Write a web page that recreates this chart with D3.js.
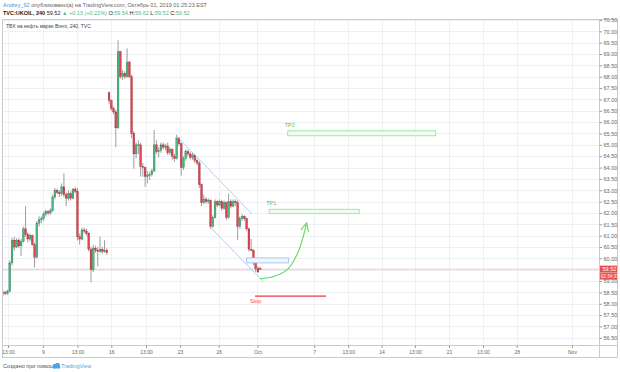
<!DOCTYPE html>
<html><head><meta charset="utf-8">
<script src="https://cdn.jsdelivr.net/npm/d3@7"></script>
<style>body{margin:0;background:#fff} svg{display:block;font-family:"Liberation Sans",Arial,sans-serif}</style>
</head><body><svg id="c" width="620" height="372"></svg>
<script>
// ---- data (4h bars, TVC:UKOIL) ----
const opens  = [58.45,58.50,58.45,58.55,59.80,60.80,60.50,60.80,60.55,60.75,61.30,61.05,60.85,61.00,60.60,60.05,61.55,61.70,61.75,61.95,62.05,62.00,62.10,62.70,63.00,62.90,62.85,63.15,62.80,62.65,62.85,62.65,63.05,62.95,60.95,60.85,61.25,61.20,61.10,60.40,59.50,60.45,60.35,60.30,60.40,60.30,60.35,
  67.30,66.95,66.60,66.45,65.75,69.10,68.00,68.15,68.00,68.65,68.00,65.50,64.60,65.00,65.00,64.05,64.00,63.60,63.65,63.70,63.85,65.00,64.70,64.75,65.00,64.90,64.95,64.65,64.80,64.50,64.40,65.30,65.05,64.00,64.40,64.70,64.60,64.45,64.55,64.30,64.20,63.25,62.45,62.60,62.50,62.55,61.40,61.80,62.50,62.35,62.50,62.20,62.45,61.80,62.50,62.30,62.50,62.45,61.40,61.75,61.85,61.75,61.30,60.40,60.35,59.80,59.55,59.54];
const highs  = [58.60,58.58,58.62,59.90,60.90,60.95,60.88,60.90,60.85,61.40,62.30,61.15,61.10,61.05,60.70,61.65,61.85,61.85,62.05,62.15,62.12,62.20,62.80,63.10,63.08,63.00,63.30,63.75,62.90,63.00,62.95,63.10,63.15,63.10,61.10,61.35,61.35,61.30,61.15,60.50,60.60,60.55,60.50,60.95,60.50,60.80,60.45,
  67.35,67.00,66.70,66.55,69.60,69.15,68.30,68.25,69.25,68.70,68.10,65.60,65.10,65.20,65.10,64.20,64.05,63.85,63.80,63.95,65.65,65.20,64.90,65.10,65.10,65.05,65.10,64.90,64.85,64.60,65.45,65.35,65.10,64.50,64.80,64.80,64.70,64.65,64.60,64.40,64.30,63.30,62.80,62.70,62.65,62.60,61.90,62.60,62.55,62.60,62.55,62.55,62.50,62.85,62.60,62.60,62.60,62.55,61.85,61.95,61.90,61.80,61.35,60.85,60.40,59.85,59.65,59.62];
const lows   = [58.35,58.38,58.40,58.50,59.70,60.35,60.45,60.45,60.10,60.70,60.95,60.70,60.75,60.55,59.60,60.00,61.40,61.55,61.65,61.85,61.90,61.92,62.05,62.60,62.82,62.70,62.75,62.70,62.30,62.55,62.55,62.60,62.85,60.80,60.60,60.80,61.10,61.00,60.30,58.95,59.40,60.25,59.65,60.25,60.20,60.25,60.15,
  66.80,66.50,66.35,64.90,65.70,67.90,67.85,67.90,67.95,67.95,65.30,63.95,64.40,64.60,63.60,63.60,63.15,63.30,63.45,63.60,63.80,64.60,64.45,64.65,64.80,64.75,64.55,64.55,64.35,64.25,64.35,64.95,63.65,63.90,64.30,64.50,64.35,64.35,64.20,64.10,63.10,62.30,62.40,62.40,62.40,61.30,61.35,61.75,62.25,62.30,62.10,62.15,61.70,61.75,62.20,62.25,62.30,60.80,61.30,61.65,61.65,61.20,60.30,60.30,59.70,59.40,59.35,59.52];
const closes = [58.50,58.45,58.55,59.80,60.80,60.50,60.80,60.55,60.75,61.30,61.05,60.85,61.00,60.60,60.05,61.55,61.70,61.75,61.95,62.05,62.00,62.10,62.70,63.00,62.90,62.85,63.15,62.80,62.65,62.85,62.65,63.05,62.95,60.95,60.85,61.25,61.20,61.10,60.40,59.50,60.45,60.35,60.30,60.40,60.30,60.35,60.25,
  66.95,66.60,66.45,65.75,69.10,68.00,68.15,68.00,68.65,68.00,65.50,64.60,65.00,65.00,64.05,64.00,63.60,63.65,63.70,63.85,65.00,64.70,64.75,65.00,64.90,64.95,64.65,64.80,64.50,64.40,65.30,65.05,64.00,64.40,64.70,64.60,64.45,64.55,64.30,64.20,63.25,62.45,62.60,62.50,62.55,61.40,61.80,62.50,62.35,62.50,62.20,62.45,61.80,62.50,62.30,62.50,62.45,61.40,61.75,61.85,61.75,61.30,60.40,60.35,59.80,59.55,59.40,59.52];

const priceTicks = d3.range(56.5, 70.51, 0.5);
const timeTickLabels = ["13:00","9","13:00","16","13:00","23","26","Oct","7","13:00","14","13:00","21","13:00","28","Nov"];
const timeTickBars   = [2.2,17.7,33,48,63.4,78.5,95.6,112.8,137.9,153,167.8,182.6,197.7,212.8,227.7,252.2];
const lastPrice = 59.52;
const countdownText = "02:34:37";

// drawings (bar index, price)
const channelUpper = [[77,65.39],[110.4,61.95]];
const channelLower = [[91.75,61.39],[115.4,58.97]];
const entryZone = [108,126.5,60.02,59.80];
const tp1Zone = [118,157.9,62.16,61.97];
const tp2Zone = [126.2,191.8,65.62,65.40];
const stopLevel = [111.7,143.2,58.34];
const arrowPts = [[113.9,59.1],[120,59.2],[126,59.5],[130.5,60.2],[133.2,61.0],[134.6,61.56]];

const headerLine1 = ["Andrey_92"," опубликовано(а) на TradingView.com, Октябрь 01, 2019 01:25:23 EST"];
const titleText = "ТВХ на нефть марки Brent, 240, TVC";

// ---- layout ----
const svg = d3.select("#c");
const L = 2.5, T = 19.5, R = 599.5, B = 345.5, AR = 617.5, AB = 357.5;
const x = d3.scaleLinear().domain([0,114]).range([3, 3+114*2.256]);
const y = d3.scaleLinear().domain([56.5,70.5]).range([337.8,20]);
const UP="#4fb582", DN="#e0434f", UPB="#2f7d55", DNB="#9c2a30", WICK="#737375";

svg.append("defs").append("clipPath").attr("id","pane").append("rect")
  .attr("x",L).attr("y",T).attr("width",R-L).attr("height",B-T);

// grid
const grid = svg.append("g").attr("clip-path","url(#pane)").attr("shape-rendering","crispEdges");
grid.selectAll("line.h").data(priceTicks).join("line").attr("class","h")
  .attr("x1",L).attr("x2",R).attr("y1",d=>Math.round(y(d))+0.5).attr("y2",d=>Math.round(y(d))+0.5)
  .attr("stroke","#eef0f4");
grid.selectAll("line.v").data(timeTickBars).join("line").attr("class","v")
  .attr("y1",T).attr("y2",B).attr("x1",d=>Math.round(x(d))+0.5).attr("x2",d=>Math.round(x(d))+0.5)
  .attr("stroke","#eef0f4");

const pane = svg.append("g").attr("clip-path","url(#pane)");
// last price line
pane.append("line").attr("x1",L).attr("x2",R).attr("y1",y(lastPrice)).attr("y2",y(lastPrice))
  .attr("stroke","#f3b0b0").attr("stroke-width",0.8);

// candles
const bars = d3.range(opens.length).map(i=>({i,o:opens[i],h:highs[i],l:lows[i],c:closes[i]}));
const cg = pane.append("g");
cg.selectAll("line").data(bars).join("line")
  .attr("x1",d=>x(d.i)).attr("x2",d=>x(d.i)).attr("y1",d=>y(d.h)).attr("y2",d=>y(d.l))
  .attr("stroke",WICK).attr("stroke-width",0.7);
cg.selectAll("rect").data(bars).join("rect")
  .attr("x",d=>x(d.i)-0.9).attr("width",1.8)
  .attr("y",d=>y(Math.max(d.o,d.c))).attr("height",d=>Math.max(0.8,Math.abs(y(d.o)-y(d.c))))
  .attr("fill",d=>d.c>=d.o?UP:DN).attr("stroke",d=>d.c>=d.o?UPB:DNB).attr("stroke-width",0.35);

// channel
[channelUpper, channelLower].forEach(ln=>{
  pane.append("line").attr("x1",x(ln[0][0])).attr("y1",y(ln[0][1])).attr("x2",x(ln[1][0])).attr("y2",y(ln[1][1]))
    .attr("stroke","#a9c9ee").attr("stroke-width",0.9);
});
// entry zone
pane.append("rect").attr("x",x(entryZone[0])).attr("y",y(entryZone[2]))
  .attr("width",x(entryZone[1])-x(entryZone[0])).attr("height",y(entryZone[3])-y(entryZone[2]))
  .attr("fill","#f1f6fe").attr("stroke","#9fc3f0").attr("stroke-width",0.9);
// TP zones
[[tp1Zone,"TP1"],[tp2Zone,"TP2"]].forEach(([z,lab])=>{
  pane.append("rect").attr("x",x(z[0])).attr("y",y(z[2]))
    .attr("width",x(z[1])-x(z[0])).attr("height",y(z[3])-y(z[2]))
    .attr("fill","#f1fcf1").attr("stroke","#9ee49e").attr("stroke-width",0.9);
  pane.append("text").attr("x",x(z[0])-3).attr("y",y(z[2])-4).text(lab)
    .attr("font-size",5.5).attr("fill","#5fb85f");
});
// stop
pane.append("line").attr("x1",x(stopLevel[0])).attr("x2",x(stopLevel[1])).attr("y1",y(stopLevel[2])).attr("y2",y(stopLevel[2]))
  .attr("stroke","#ef3b45").attr("stroke-width",1.3);
pane.append("text").attr("x",x(stopLevel[0])-5).attr("y",y(stopLevel[2])+7).text("Stop")
  .attr("font-size",5.5).attr("fill","#ef4b55");
// arrow
const ap = arrowPts.map(p=>[x(p[0]),y(p[1])]);
pane.append("path").attr("d",d3.line().curve(d3.curveCatmullRom)(ap))
  .attr("fill","none").attr("stroke","#58dc58").attr("stroke-width",1.1);
{
  const [tx,ty]=ap[ap.length-1], [px,py]=ap[ap.length-2];
  const a=Math.atan2(ty-py,tx-px), len=9, sp=0.45;
  const p1=[tx-len*Math.cos(a-sp),ty-len*Math.sin(a-sp)], p2=[tx-len*Math.cos(a+sp),ty-len*Math.sin(a+sp)];
  pane.append("path").attr("d",`M${p1}L${tx},${ty}L${p2}`).attr("fill","none").attr("stroke","#58dc58").attr("stroke-width",1.1);
}

// title in pane
svg.append("text").attr("x",6).attr("y",27.5).text(titleText).attr("font-size",5).attr("fill","#444");

// frame
const fr = svg.append("g").attr("fill","none").attr("stroke","#c9cbd0").attr("stroke-width",1).attr("shape-rendering","crispEdges");
fr.append("rect").attr("x",L).attr("y",T).attr("width",AR-L).attr("height",AB-T);
fr.append("line").attr("x1",R).attr("x2",R).attr("y1",T).attr("y2",AB);
fr.append("line").attr("x1",L).attr("x2",AR).attr("y1",B).attr("y2",B);

// price axis
const yTickVals = priceTicks.filter(v=>Math.abs(y(v)-y(lastPrice))>6);
const ya = svg.append("g").attr("transform",`translate(${R},0)`)
  .call(d3.axisRight(y).tickValues(yTickVals).tickFormat(d3.format(".2f")).tickSize(2.5).tickPadding(1.5));
ya.select(".domain").remove();
ya.selectAll("line").attr("stroke","#999");
ya.selectAll("text").attr("font-size",5.5).attr("fill","#666").attr("font-family","Liberation Sans, Arial, sans-serif");

// time axis
const xa = svg.append("g").attr("transform",`translate(0,${B})`)
  .call(d3.axisBottom(x).tickValues(timeTickBars).tickFormat((d,i)=>timeTickLabels[i]).tickSize(2.5).tickPadding(2));
xa.select(".domain").remove();
xa.selectAll("line").attr("stroke","#999");
xa.selectAll("text").attr("font-size",5).attr("fill","#666").attr("font-family","Liberation Sans, Arial, sans-serif");

// last price labels
const ly = y(lastPrice);
svg.append("rect").attr("x",R+0.5).attr("y",ly-3.6).attr("width",AR-R-1).attr("height",7).attr("fill","#e8514c");
svg.append("text").attr("x",R+3).attr("y",ly+2).text(d3.format(".2f")(lastPrice)).attr("font-size",5.5).attr("fill","#fff");
svg.append("rect").attr("x",R+0.5).attr("y",ly+3.8).attr("width",AR-R-1).attr("height",6.5).attr("fill","#e8514c");
svg.append("text").attr("x",R+1.3).attr("y",ly+8.8).text(countdownText).attr("font-size",4.6).attr("fill","#fff");

// header
const h1 = svg.append("text").attr("x",3).attr("y",6.5).attr("font-size",5.5);
h1.append("tspan").text(headerLine1[0]).attr("fill","#4a90d6");
h1.append("tspan").text(headerLine1[1]).attr("fill","#666");
const h2 = svg.append("text").attr("x",3).attr("y",14.5).attr("font-size",5.5);
const G="#53b987";
[["TVC:UKOIL, 240","#222","bold"],[" 59.52","#222"],[" ▲ +0.13 (+0.22%)",G],[" O:","#222"],["59.54",G],[" H:","#222"],["59.62",G],[" L:","#222"],["59.52",G],[" C:","#222"],["59.52",G]]
 .forEach(([t,c,w])=>h2.append("tspan").text(t).attr("fill",c).attr("font-weight",w||"normal"));

// footer
svg.append("text").attr("x",3).attr("y",368).text("Создано при помощи").attr("font-size",5.5).attr("fill","#555");
const lg = svg.append("g").attr("transform","translate(52,363)").attr("fill","#45a5e6");
lg.append("circle").attr("cx",3).attr("cy",3).attr("r",2.2);
lg.append("circle").attr("cx",5.5).attr("cy",2.2).attr("r",2.4);
lg.append("rect").attr("x",0.8).attr("y",3).attr("width",7.5).attr("height",2.4).attr("rx",1);
svg.append("text").attr("x",61).attr("y",368).text("TradingView").attr("font-size",5.5).attr("fill","#4aa6e2");
</script></body></html>
